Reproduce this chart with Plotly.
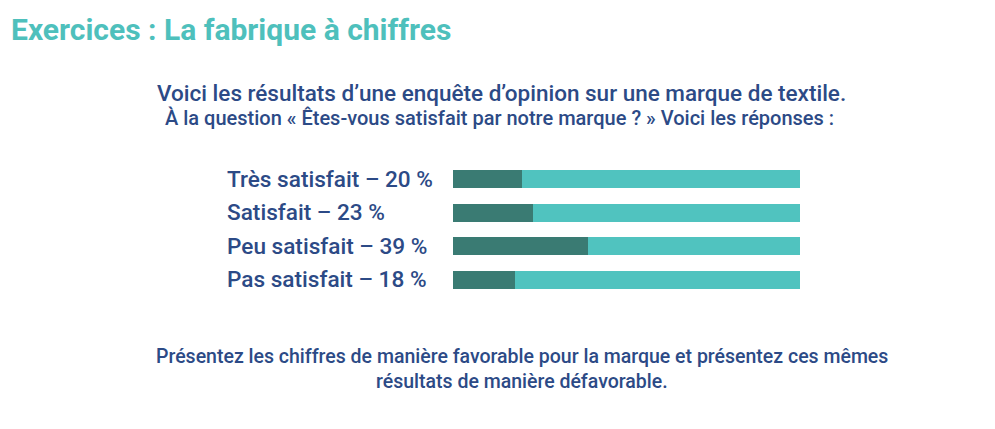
import plotly.graph_objects as go

categories = ["Très satisfait", "Satisfait", "Peu satisfait", "Pas satisfait"]
values = [20, 23, 39, 18]
total = 100

title_text = "Exercices : La fabrique à chiffres"
intro_1 = "Voici les résultats d’une enquête d’opinion sur une marque de textile."
intro_2 = "À la question « Êtes-vous satisfait par notre marque ? » Voici les réponses :"
outro_1 = "Présentez les chiffres de manière favorable pour la marque et présentez ces mêmes"
outro_2 = "résultats de manière défavorable."

W, H = 995, 429
BLUE = "#2c4a86"
TEAL = "#4ec0bc"
DARK = "#3a7b73"
LIGHT = "#50c3bf"
FONT = "Roboto, 'Open Sans', sans-serif"

rest = [total - v for v in values]

fig = go.Figure()
fig.add_trace(go.Bar(y=categories, x=values, orientation="h", marker_color=DARK,
                     marker_line_width=0, width=0.54, hoverinfo="skip"))
fig.add_trace(go.Bar(y=categories, x=rest, orientation="h", marker_color=LIGHT,
                     marker_line_width=0, width=0.54, hoverinfo="skip"))

def px_x(p):
    return p / W

def px_y(p):
    return 1 - p / H

annotations = []
for c, v in zip(categories, values):
    annotations.append(dict(x=px_x(225), xref="paper", y=c, yref="y", xanchor="left",
                            yanchor="middle", showarrow=False,
                            text=f"{c} – {v} %",
                            font=dict(family=FONT, size=22.6, color=BLUE, weight=500)))

annotations += [
    dict(x=px_x(9), y=px_y(30), xref="paper", yref="paper", xanchor="left", yanchor="middle",
         showarrow=False, text=title_text,
         font=dict(family=FONT, size=30, color=TEAL, weight=700)),
    dict(x=px_x(501), y=px_y(93), xref="paper", yref="paper", xanchor="center", yanchor="middle",
         showarrow=False, text=intro_1,
         font=dict(family=FONT, size=22.5, color=BLUE, weight=500)),
    dict(x=px_x(499), y=px_y(118), xref="paper", yref="paper", xanchor="center", yanchor="middle",
         showarrow=False, text=intro_2,
         font=dict(family=FONT, size=20, color=BLUE, weight=500)),
    dict(x=px_x(522), y=px_y(356), xref="paper", yref="paper", xanchor="center", yanchor="middle",
         showarrow=False, text=outro_1,
         font=dict(family=FONT, size=19.5, color=BLUE, weight=500)),
    dict(x=px_x(522), y=px_y(381), xref="paper", yref="paper", xanchor="center", yanchor="middle",
         showarrow=False, text=outro_2,
         font=dict(family=FONT, size=19.5, color=BLUE, weight=500)),
]

fig.update_layout(
    width=W, height=H, margin=dict(l=0, r=0, t=0, b=0),
    barmode="stack", showlegend=False,
    paper_bgcolor="white", plot_bgcolor="white",
    xaxis=dict(domain=[px_x(453), px_x(800)], range=[0, total], visible=False, fixedrange=True),
    yaxis=dict(domain=[px_y(296.8), px_y(162.2)], autorange="reversed", visible=False,
               fixedrange=True, type="category"),
    annotations=annotations,
)

fig.write_html("out.html", config={"displayModeBar": False})
